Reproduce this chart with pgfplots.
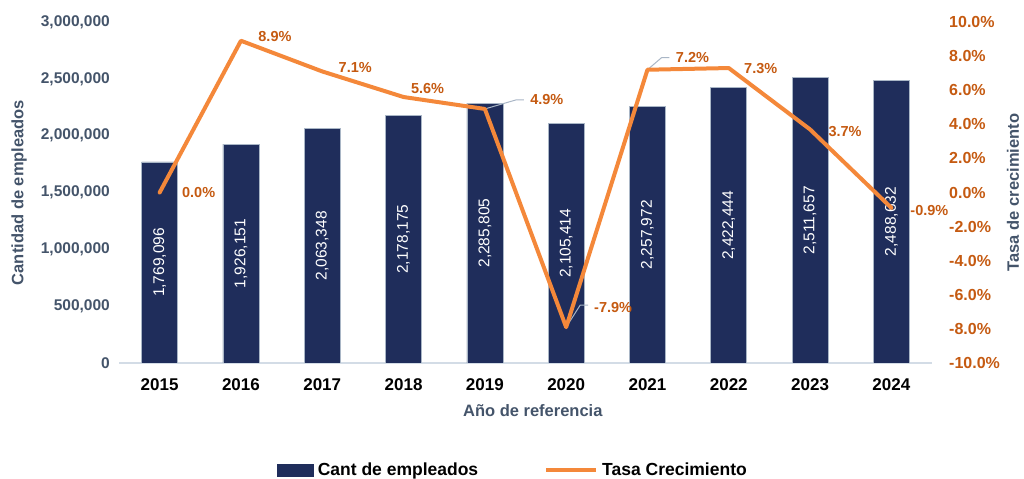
\documentclass[border=0pt]{standalone}
\usepackage{fontspec}
\setmainfont{Liberation Sans}
\usepackage{pgfplots}
\pgfplotsset{compat=1.18}
\usepackage{pgfplotstable}

\definecolor{navy}{HTML}{1F2D5B}
\definecolor{naranja}{HTML}{F4883A}
\definecolor{etiq}{HTML}{C55A11}
\definecolor{grisazul}{HTML}{44546A}
\definecolor{ejex}{HTML}{D3DCE6}
\definecolor{guia}{HTML}{A9B6C6}

% x, empleados, tasa (%), desplazamiento de la etiqueta (bp)
\pgfplotstableread{
x emp tasa dx dy
0 1769096 0.0 39 0
1 1926151 8.9 34 4
2 2063348 7.1 33 4
3 2178175 5.6 24 9
4 2285805 4.9 62 9
5 2105414 -7.9 47 20
6 2257972 7.2 45 12
7 2422444 7.3 32 0
8 2511657 3.7 35 -2
9 2488632 -0.9 38 -3
}\datos

\pgfplotsset{
  base/.style={
    width=813bp, height=341bp, scale only axis,
    at={(119bp,116bp)}, anchor=south west,
    xmin=-0.5, xmax=9.5,
    /pgf/number format/assume math mode=true,
    tick style={draw=none}, major tick length=0pt,
  },
}

\begin{document}
\begin{tikzpicture}
\begin{axis}[
    base,
    ymin=0, ymax=3000000,
    ytick={0,500000,1000000,1500000,2000000,2500000,3000000},
    scaled y ticks=false,
    y tick label style={/pgf/number format/fixed, /pgf/number format/precision=0,
        /pgf/number format/1000 sep={,},
        font=\fontsize{15.5bp}{18bp}\selectfont\bfseries, text=grisazul,
        anchor=east, inner sep=0pt, xshift=-9bp},
    xtick={0,1,2,3,4,5,6,7,8,9},
    xticklabels={2015,2016,2017,2018,2019,2020,2021,2022,2023,2024},
    x tick label style={font=\fontsize{17bp}{20bp}\selectfont\bfseries, text=black,
        anchor=north, inner sep=0pt, yshift=-15bp},
    axis x line*=bottom, axis y line*=left,
    y axis line style={draw=none},
    x axis line style={draw=ejex, line width=2.5bp, -},
    ylabel={Cantidad de empleados},
    ylabel style={at={(axis description cs:-0.1230,0.5)}, anchor=center, rotate=0,
        font=\fontsize{16.5bp}{20bp}\selectfont\bfseries, text=grisazul},
    xlabel={Año de referencia},
    xlabel style={at={(axis description cs:0.509,-0.1408)}, anchor=center,
        font=\fontsize{16.5bp}{20bp}\selectfont\bfseries, text=grisazul},
    legend style={at={(axis description cs:0.1943,-0.3138)}, anchor=west,
        draw=none, fill=none, inner sep=0pt, legend columns=2,
        font=\fontsize{17.5bp}{20bp}\selectfont\bfseries,
        nodes={inner sep=0pt},
        /tikz/every odd column/.append style={column sep=4bp},
        /tikz/every even column/.append style={column sep=66bp}},
    legend cell align=left,
]
\addplot[ybar, bar width=36bp, fill=navy, draw=guia, line width=0.6bp,
    legend image code/.code={\fill[navy] (0bp,-6bp) rectangle (36bp,6bp);}]
    table[x=x, y=emp] {\datos};
\addlegendentry{Cant de empleados}
% etiquetas de las barras, centradas en la mitad de cada barra
\addplot[draw=none, forget plot, point meta={\thisrow{emp}},
    nodes near coords={\pgfmathprintnumber[fixed,precision=0,1000 sep={,}]{\pgfplotspointmeta}},
    every node near coord/.append style={rotate=90, anchor=center, text=white,
        font=\fontsize{15.5bp}{18bp}\selectfont}]
    table[x=x, y expr=\thisrow{emp}/2] {\datos};
\addlegendimage{legend image code/.code={\draw[naranja, line width=4bp] (0bp,0bp) -- (50bp,0bp);}}
\addlegendentry{Tasa Crecimiento}
\end{axis}

\begin{axis}[
    base,
    ymin=-10, ymax=10,
    ytick={-10,-8,-6,-4,-2,0,2,4,6,8,10},
    axis y line*=right, hide x axis,
    y axis line style={draw=none},
    yticklabel={\pgfmathprintnumber[fixed,fixed zerofill,precision=1]{\tick}\%},
    y tick label style={font=\fontsize{16bp}{18bp}\selectfont\bfseries, text=etiq,
        anchor=west, inner sep=0pt, xshift=17bp},
    ylabel={Tasa de crecimiento},
    ylabel style={at={(axis description cs:1.0996,0.5)}, anchor=center, rotate=0,
        font=\fontsize{16.5bp}{20bp}\selectfont\bfseries, text=grisazul},
]
\draw[guia, line width=1bp] (axis cs:4,4.9) -- ++(31bp,9bp) -- ++(8bp,0bp);
\draw[guia, line width=1bp] (axis cs:5,-7.9) -- ++(14bp,22bp) -- ++(8bp,0bp);
\draw[guia, line width=1bp] (axis cs:6,7.2) -- ++(14bp,12bp) -- ++(8bp,0bp);
\addplot[naranja, line width=4bp, line join=round, line cap=round,
    point meta=y,
    visualization depends on={\thisrow{dx} \as \ldx},
    visualization depends on={\thisrow{dy} \as \ldy},
    nodes near coords={\pgfmathprintnumber[fixed,fixed zerofill,precision=1]{\pgfplotspointmeta}\%},
    every node near coord/.append style={anchor=center, xshift=\ldx*1bp, yshift=\ldy*1bp,
        text=etiq, font=\fontsize{14.5bp}{17bp}\selectfont\bfseries}]
    table[x=x, y=tasa] {\datos};
\end{axis}
\pgfresetboundingbox
\path[use as bounding box] (0,0) rectangle (1024bp,479bp);
\end{tikzpicture}
\end{document}
